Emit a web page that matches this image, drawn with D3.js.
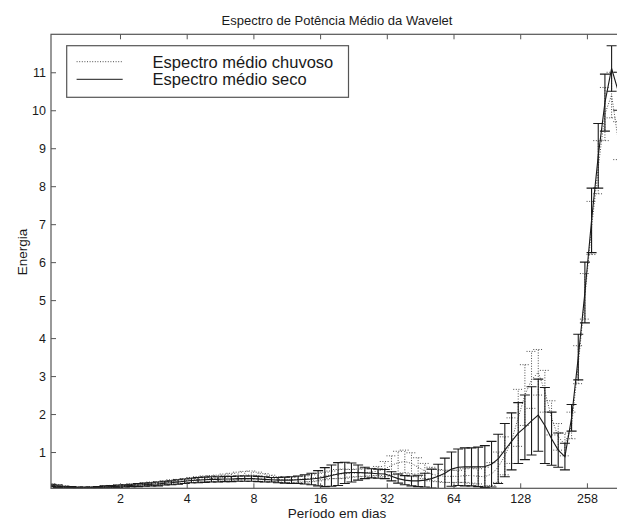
<!DOCTYPE html>
<html>
<head>
<meta charset="utf-8">
<script src="https://cdn.jsdelivr.net/npm/d3@7"></script>
<style>
  body { margin: 0; background: #fff; }
  text { font-family: "Liberation Sans", Arial, Helvetica, sans-serif; fill: #1a1a1a; }
</style>
</head>
<body>
<div class="chart"></div>
<script>
// periods (days) of the wavelet scales
const periods = [
  0.979, 1.050, 1.125, 1.206, 1.292, 1.385, 1.485, 1.591, 1.705, 1.828,
  1.959, 2.099, 2.250, 2.412, 2.585, 2.770, 2.969, 3.182, 3.411, 3.655,
  3.918, 4.199, 4.500, 4.823, 5.170, 5.541, 5.938, 6.364, 6.821, 7.311,
  7.835, 8.398, 9.001, 9.647, 10.34, 11.08, 11.88, 12.73, 13.64, 14.62,
  15.67, 16.80, 18.00, 19.29, 20.68, 22.16, 23.75, 25.46, 27.29, 29.24,
  31.34, 33.59, 36.00, 38.59, 41.36, 44.32, 47.51, 50.92, 54.57, 58.49,
  62.68, 67.18, 72.01, 77.17, 82.71, 88.65, 95.01, 101.8, 109.1, 117.0,
  125.4, 134.4, 144.0, 154.4, 165.4, 177.3, 190.0, 203.7, 218.3, 234.0,
  250.7, 268.7, 288.0, 308.7, 330.9, 354.6
];

// Espectro médio seco (solid)
const secoMean = [
  0.12, 0.10, 0.08, 0.07, 0.06, 0.06, 0.06, 0.07, 0.08, 0.09,
  0.10, 0.11, 0.12, 0.13, 0.14, 0.15, 0.16, 0.18, 0.19, 0.21,
  0.23, 0.25, 0.26, 0.27, 0.28, 0.28, 0.29, 0.29, 0.30, 0.30,
  0.30, 0.29, 0.28, 0.27, 0.26, 0.26, 0.26, 0.27, 0.28, 0.29,
  0.31, 0.34, 0.38, 0.42, 0.45, 0.46, 0.46, 0.45, 0.44, 0.43,
  0.42, 0.36, 0.30, 0.26, 0.24, 0.24, 0.26, 0.30, 0.36, 0.44,
  0.55, 0.60, 0.61, 0.61, 0.61, 0.62, 0.68, 0.82, 1.05, 1.28,
  1.50, 1.65, 1.82, 1.97, 1.70, 1.35, 1.05, 0.88, 1.90, 3.50,
  5.20, 7.10, 8.80, 10.20, 11.10, 10.50
];
const secoErr = [
  0.03, 0.03, 0.02, 0.02, 0.02, 0.02, 0.02, 0.02, 0.03, 0.03,
  0.03, 0.03, 0.03, 0.04, 0.04, 0.04, 0.05, 0.05, 0.05, 0.06,
  0.06, 0.06, 0.07, 0.07, 0.07, 0.07, 0.07, 0.07, 0.07, 0.07,
  0.07, 0.07, 0.07, 0.06, 0.07, 0.08, 0.09, 0.10, 0.12, 0.15,
  0.20, 0.25, 0.28, 0.30, 0.28, 0.25, 0.20, 0.15, 0.12, 0.12,
  0.12, 0.12, 0.12, 0.12, 0.13, 0.15, 0.18, 0.25, 0.32, 0.40,
  0.45, 0.48, 0.50, 0.50, 0.52, 0.55, 0.60, 0.65, 0.70, 0.75,
  0.80, 0.85, 0.90, 0.95, 1.00, 0.70, 0.45, 0.35, 0.35, 0.60,
  0.80, 0.85, 0.85, 0.75, 0.60, 0.50
];

// Espectro médio chuvoso (dotted)
const chuvosoMean = [
  0.13, 0.11, 0.09, 0.07, 0.06, 0.06, 0.07, 0.07, 0.08, 0.09,
  0.10, 0.11, 0.12, 0.13, 0.15, 0.16, 0.17, 0.19, 0.21, 0.22,
  0.24, 0.26, 0.28, 0.29, 0.30, 0.31, 0.33, 0.35, 0.37, 0.39,
  0.40, 0.38, 0.35, 0.31, 0.28, 0.27, 0.27, 0.28, 0.29, 0.31,
  0.34, 0.37, 0.40, 0.42, 0.43, 0.44, 0.45, 0.46, 0.47, 0.50,
  0.55, 0.65, 0.72, 0.75, 0.70, 0.60, 0.50, 0.42, 0.38, 0.36,
  0.36, 0.36, 0.38, 0.38, 0.36, 0.35, 0.42, 0.60, 0.90, 1.30,
  1.90, 2.50, 2.90, 3.10, 2.60, 1.90, 1.40, 1.20, 1.70, 3.30,
  5.10, 6.90, 8.50, 9.90, 10.40, 9.20
];
const chuvosoErr = [
  0.03, 0.03, 0.02, 0.02, 0.02, 0.02, 0.02, 0.02, 0.03, 0.03,
  0.03, 0.03, 0.04, 0.04, 0.04, 0.05, 0.05, 0.05, 0.06, 0.06,
  0.06, 0.07, 0.07, 0.08, 0.08, 0.08, 0.09, 0.09, 0.10, 0.10,
  0.10, 0.09, 0.08, 0.08, 0.07, 0.07, 0.07, 0.08, 0.08, 0.09,
  0.10, 0.10, 0.10, 0.12, 0.12, 0.10, 0.10, 0.10, 0.10, 0.12,
  0.20, 0.25, 0.30, 0.30, 0.28, 0.25, 0.20, 0.18, 0.16, 0.16,
  0.16, 0.16, 0.18, 0.20, 0.20, 0.25, 0.30, 0.40, 0.50, 0.60,
  0.75, 0.80, 0.75, 0.60, 0.55, 0.45, 0.35, 0.30, 0.35, 0.50,
  0.60, 0.70, 0.70, 0.70, 0.60, 0.50
];

const xTicks = [2, 4, 8, 16, 32, 64, 128, 256];
const xTickLabels = ["2", "4", "8", "16", "32", "64", "128", "258"];
const yTicks = [1, 2, 3, 4, 5, 6, 7, 8, 9, 10, 11];
const legendLabels = ["Espectro médio chuvoso", "Espectro médio seco"];

const width = 617;
const height = 522;
const plotLeft = 51, plotRight = 623, plotTop = 34.3, plotBottom = 488.3;

const svg = d3
  .select(".chart")
  .append("svg")
  .attr("width", width)
  .attr("height", height);

const x = d3.scaleLog().base(2).domain([0.9764, 372.5]).range([plotLeft, plotRight]);
const y = d3.scaleLinear().domain([0.045, 12]).range([plotBottom, plotTop]);

svg
  .append("defs")
  .append("clipPath")
  .attr("id", "plot-clip")
  .append("rect")
  .attr("x", plotLeft)
  .attr("y", plotTop)
  .attr("width", plotRight - plotLeft)
  .attr("height", plotBottom - plotTop);

const series = [
  { mean: chuvosoMean, err: chuvosoErr, color: "#4d4d4d", dash: "1,1.6", width: 1 },
  { mean: secoMean, err: secoErr, color: "#1a1a1a", dash: null, width: 1.1 },
];

const plot = svg.append("g").attr("clip-path", "url(#plot-clip)");
const cap = 5;

series.forEach((s) => {
  const pts = periods.map((p, i) => ({ p: p, m: s.mean[i], e: s.err[i] }));
  const g = plot
    .append("g")
    .attr("stroke", s.color)
    .attr("stroke-width", s.width)
    .attr("fill", "none")
    .attr("stroke-dasharray", s.dash);

  // error bars: stem + caps
  g.selectAll(".bar")
    .data(pts)
    .join("path")
    .attr("class", "bar")
    .attr("d", (d) => {
      const cx = x(d.p);
      const y0 = y(d.m - d.e);
      const y1 = y(d.m + d.e);
      return `M${cx},${y0}V${y1}M${cx - cap},${y0}H${cx + cap}M${cx - cap},${y1}H${cx + cap}`;
    });

  g.append("path")
    .datum(pts)
    .attr(
      "d",
      d3
        .line()
        .x((d) => x(d.p))
        .y((d) => y(d.m))
    );
});

// axes (ticks pointing inward, like matlab)
const axisColor = "#555";
const xAxis = svg
  .append("g")
  .attr("transform", `translate(0,${plotBottom})`)
  .call(
    d3
      .axisBottom(x)
      .tickValues(xTicks)
      .tickFormat((d, i) => xTickLabels[i])
      .tickSizeInner(-5)
      .tickSizeOuter(0)
      .tickPadding(6)
  );
const xAxisTop = svg
  .append("g")
  .attr("transform", `translate(0,${plotTop})`)
  .call(
    d3.axisTop(x).tickValues(xTicks).tickFormat("").tickSizeInner(-5).tickSizeOuter(0)
  );
const yAxis = svg
  .append("g")
  .attr("transform", `translate(${plotLeft},0)`)
  .call(d3.axisLeft(y).tickValues(yTicks).tickSizeInner(-5).tickSizeOuter(0).tickPadding(5));

[xAxis, xAxisTop, yAxis].forEach((a) => {
  a.select(".domain").remove();
  a.selectAll("line").attr("stroke", axisColor);
  a.selectAll("text")
    .attr("font-size", 12.5)
    .attr("font-family", '"Liberation Sans", Arial, sans-serif')
    .attr("fill", "#1a1a1a");
});

svg
  .append("rect")
  .attr("x", plotLeft)
  .attr("y", plotTop)
  .attr("width", plotRight - plotLeft)
  .attr("height", plotBottom - plotTop)
  .attr("fill", "none")
  .attr("stroke", axisColor)
  .attr("stroke-width", 1.2);

// title and labels
svg
  .append("text")
  .attr("x", (plotLeft + plotRight) / 2)
  .attr("y", 25)
  .attr("text-anchor", "middle")
  .attr("font-size", 13)
  .text("Espectro de Potência Médio da Wavelet");

svg
  .append("text")
  .attr("x", (plotLeft + plotRight) / 2)
  .attr("y", 518)
  .attr("text-anchor", "middle")
  .attr("font-size", 13.5)
  .text("Período em dias");

svg
  .append("text")
  .attr("transform", `translate(27,252) rotate(-90)`)
  .attr("text-anchor", "middle")
  .attr("font-size", 13.5)
  .text("Energia");

// legend
const legend = svg.append("g");
legend
  .append("rect")
  .attr("x", 66.7)
  .attr("y", 45.7)
  .attr("width", 348.5 - 66.7)
  .attr("height", 97.3 - 45.7)
  .attr("fill", "#fff")
  .attr("stroke", axisColor)
  .attr("stroke-width", 1.2);

const rows = [61.7, 79.3];
legendLabels.forEach((label, i) => {
  const s = series[i];
  legend
    .append("line")
    .attr("x1", 76.6)
    .attr("x2", 122.7)
    .attr("y1", rows[i])
    .attr("y2", rows[i])
    .attr("stroke", s.color)
    .attr("stroke-width", 1)
    .attr("stroke-dasharray", s.dash);
  legend
    .append("text")
    .attr("x", 152.6)
    .attr("y", rows[i] + 5.8)
    .attr("font-size", 16.5)
    .text(label);
});
</script>
</body>
</html>
